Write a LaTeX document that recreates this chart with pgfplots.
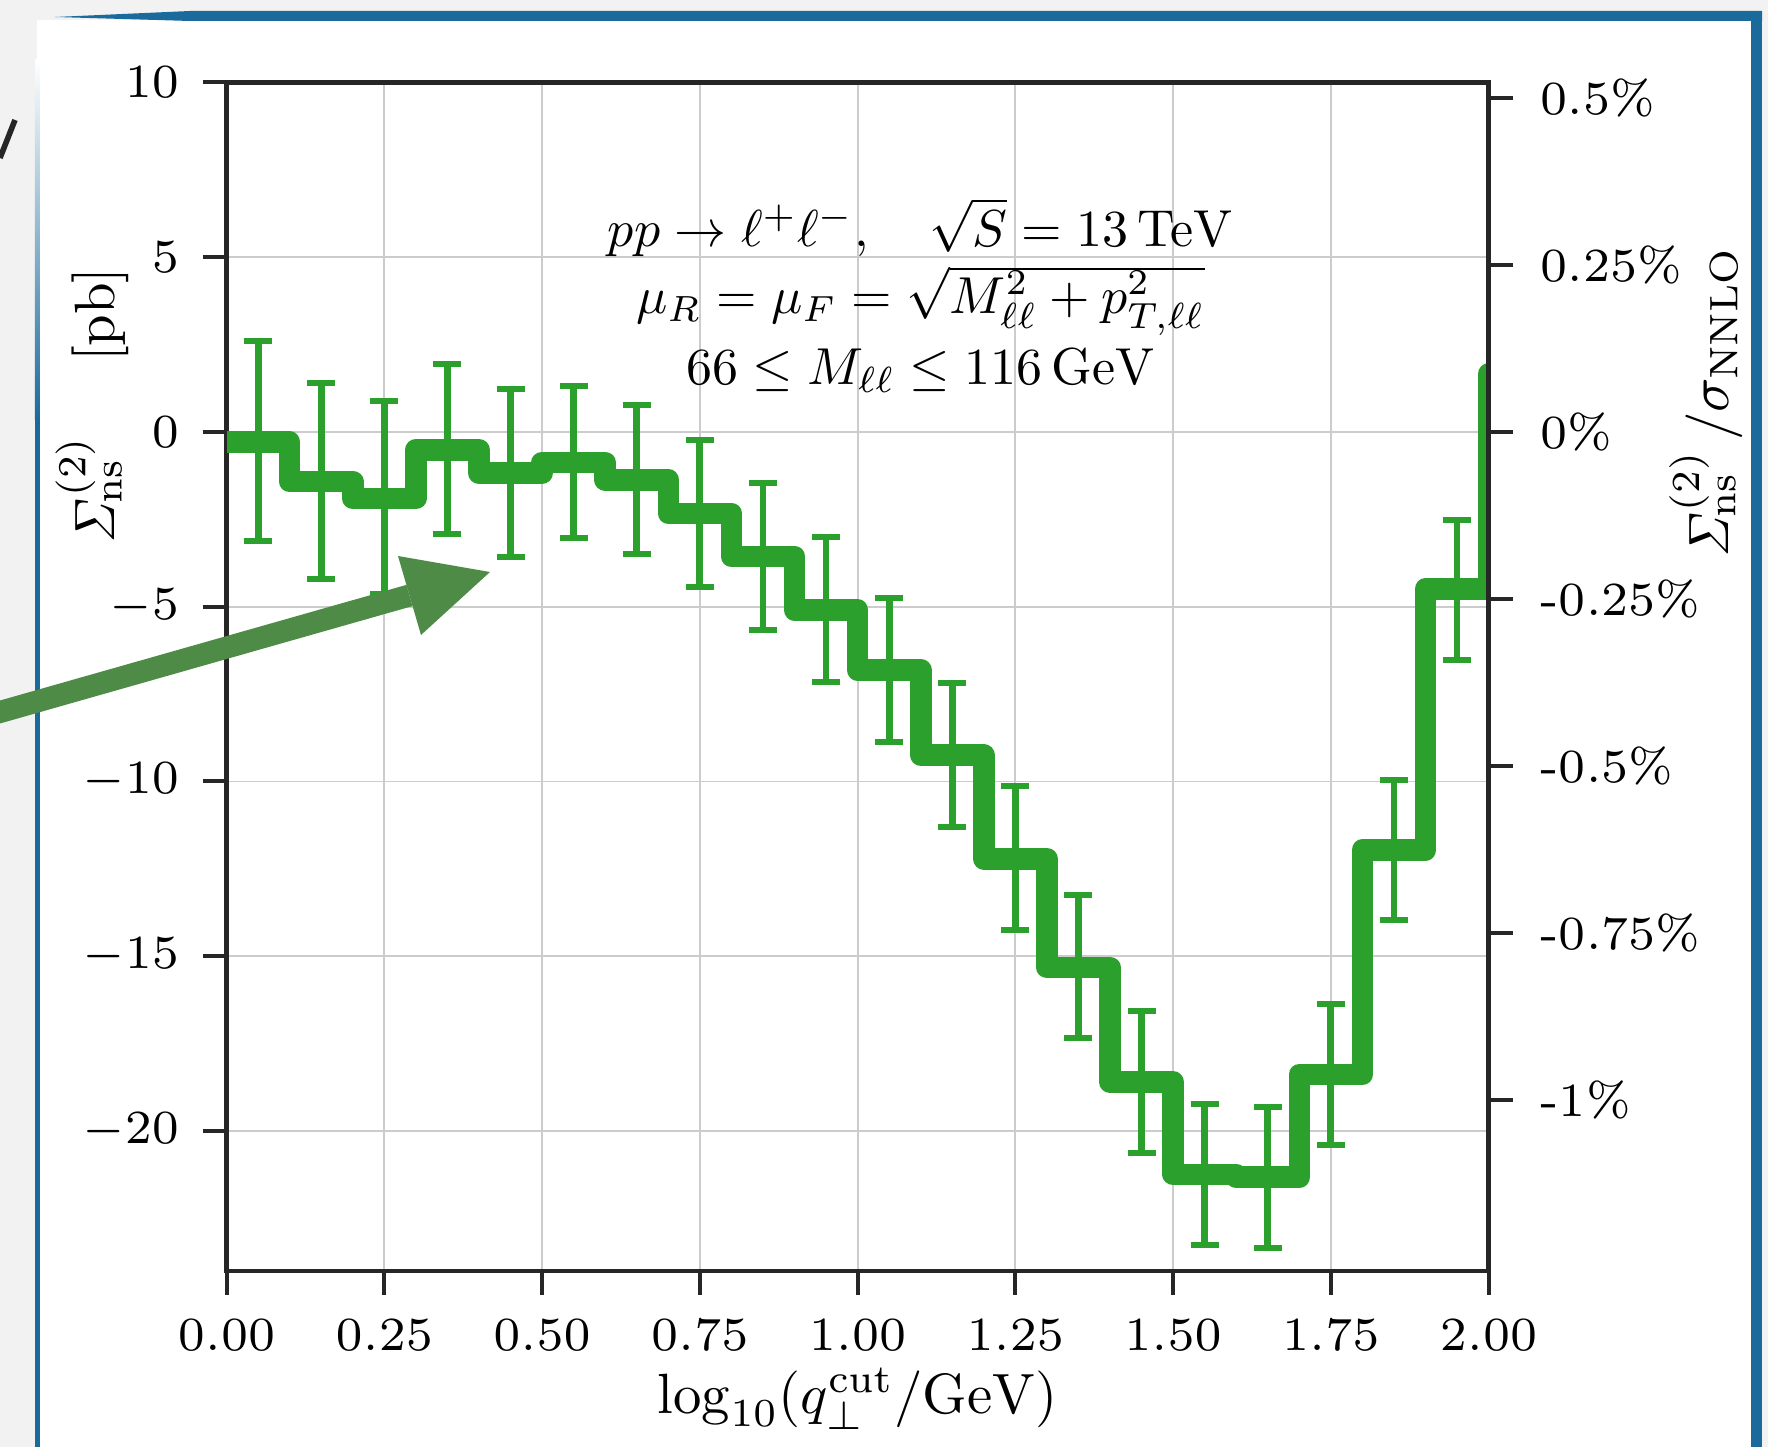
\documentclass[border=0pt]{standalone}
\usepackage{pgfplots}
\pgfplotsset{compat=1.18}
\usepackage{graphicx}
\definecolor{tabgreen}{HTML}{2CA02C}
\definecolor{arrowgreen}{HTML}{4E8B46}
\definecolor{slideblue}{HTML}{1B6A9C}
\definecolor{bggray}{HTML}{F2F2F2}
\definecolor{spine}{HTML}{262626}
\definecolor{gridc}{HTML}{CCCCCC}
\newcommand{\tl}[1]{\scalebox{1.7}{\fontsize{7}{8}\selectfont #1}}
\newcommand{\lb}[1]{\scalebox{1.42}{\fontsize{10}{12}\selectfont #1}}
\newcommand{\an}[1]{\scalebox{1.3}{\fontsize{10}{12}\selectfont #1}}

\pgfplotstableread{
x y e
0.05 -0.27 2.86
0.15 -1.41 2.81
0.25 -1.87 2.76
0.35 -0.50 2.43
0.45 -1.18 2.40
0.55 -0.86 2.17
0.65 -1.37 2.13
0.75 -2.33 2.11
0.85 -3.56 2.10
0.95 -5.08 2.08
1.05 -6.81 2.07
1.15 -9.25 2.06
1.25 -12.20 2.06
1.35 -15.30 2.05
1.45 -18.60 2.04
1.55 -21.25 2.02
1.65 -21.33 2.02
1.75 -18.39 2.01
1.85 -11.97 2.00
1.95 -4.52 2.00
}\errtable

\begin{document}
\begin{tikzpicture}
\begin{scope}[x=0.25pt,y=-0.25pt,shift={(-56.65pt,317.7pt)}]
  \useasboundingbox (0,0) rectangle (1768,1447);
  \fill[bggray] (0,0) rectangle (1768,1447);
  \fill[white] (37,20) rectangle (1752,1447);
  \fill[slideblue] (55,17) -- (190,11) -- (1762,11) -- (1762,21) -- (190,21) -- cycle;
  \fill[slideblue] (1751,11) rectangle (1762,1447);
  \shade[top color=white, bottom color=slideblue] (35,60) rectangle (40,420);
  \fill[slideblue] (35,419) rectangle (40,1447);
  \draw[line width=1.4pt, black!85] (15,120) -- (0,158);
\end{scope}

\begin{axis}[
  at={(0,0)}, anchor=south west,
  scale only axis, width=315.5pt, height=297.1pt,
  xmin=0, xmax=2, ymin=-24, ymax=10,
  xtick={0,0.25,0.5,0.75,1,1.25,1.5,1.75,2},
  ytick={-20,-15,-10,-5,0,5,10},
  xticklabel={\tl{$\pgfmathprintnumber[fixed,fixed zerofill,precision=2]{\tick}$}},
  yticklabel={\tl{$\pgfmathprintnumber{\tick}$}},
  xticklabel style={inner sep=0pt, yshift=-6.1pt},
  yticklabel style={inner sep=0pt, xshift=-5.7pt},
  tick align=outside, major tick length=6pt,
  xtick pos=left, ytick pos=left,
  tick style={line width=1pt, spine},
  axis line style={line width=1.1pt, spine},
  grid=major, major grid style={line width=0.45pt, gridc},
  xlabel={\lb{$\log_{10}(q_\perp^{\mathrm{cut}}/\mathrm{GeV})$}},
  xlabel style={at={(axis description cs:0.5,-0.1075)}, anchor=center, inner sep=0pt},
  ylabel={\lb{$\mathit{\Sigma}^{(2)}_{\mathrm{ns}}\hspace{1.3em}[\mathrm{pb}]$}},
  ylabel style={at={(axis description cs:-0.1064,0.728)}, anchor=center, inner sep=0pt},
  clip=true,
]
\addplot[const plot, tabgreen, line width=5.4pt, line join=round] coordinates {
(0,-0.29) (0.1,-1.42) (0.2,-1.90) (0.3,-0.51) (0.4,-1.18) (0.5,-0.87)
(0.6,-1.37) (0.7,-2.33) (0.8,-3.56) (0.9,-5.09) (1.0,-6.81) (1.1,-9.25)
(1.2,-12.21) (1.3,-15.32) (1.4,-18.60) (1.5,-21.24) (1.6,-21.32) (1.7,-18.38)
(1.8,-11.96) (1.9,-4.49) (2.0,1.65) (2.1,1.65)};
\addplot[only marks, mark=none, tabgreen,
  error bars/.cd, y dir=both, y explicit,
  error bar style={line width=1.7pt, draw=tabgreen},
  error mark options={draw=tabgreen, line width=1.5pt, mark size=3.5pt, rotate=90}]
  table[x=x, y=y, y error=e] {\errtable};
\node[anchor=base, inner sep=0pt] at (axis cs:1.1,5.31) {\an{$pp\to\ell^+\ell^-,\quad\sqrt{S}=13\,\mathrm{TeV}$}};
\node[anchor=base, inner sep=0pt] at (axis cs:1.1,3.38) {\an{$\mu_R=\mu_F=\sqrt{\vphantom{M}\smash{M_{\ell\ell}^2+p_{T,\ell\ell}^2}}$}};
\node[anchor=base, inner sep=0pt] at (axis cs:1.1,1.36) {\an{$66\le M_{\ell\ell}\le 116\,\mathrm{GeV}$}};
\end{axis}

\begin{axis}[
  at={(0,0)}, anchor=south west,
  scale only axis, width=315.5pt, height=297.1pt,
  xmin=0, xmax=2, ymin=-1.2552, ymax=0.5230,
  axis x line=none, axis y line*=right,
  ytick={-1,-0.75,-0.5,-0.25,0,0.25,0.5},
  yticklabels={\tl{-1\%},\tl{-0.75\%},\tl{-0.5\%},\tl{-0.25\%},\tl{0\%},\tl{0.25\%},\tl{0.5\%}},
  yticklabel style={inner sep=0pt, xshift=6.8pt},
  tick align=outside, major tick length=6pt,
  tick style={line width=1pt, spine},
  axis line style={line width=1.1pt, spine},
  ylabel={\lb{$\mathit{\Sigma}^{(2)}_{\mathrm{ns}}\,/\sigma_{\mathrm{NNLO}}$}},
  ylabel style={at={(axis description cs:1.1724,0.7305)}, anchor=center, inner sep=0pt},
]
\addplot[draw=none] coordinates {(0,0)};
\end{axis}

\begin{scope}[x=0.25pt,y=-0.25pt,shift={(-56.65pt,317.7pt)}]
  \fill[arrowgreen] (0,700.5) -- (0,723.5) -- (412.5,606.1) -- (406.5,584.9) -- cycle;
  \fill[arrowgreen] (398,556) -- (490,572) -- (421,635) -- cycle;
\end{scope}
\end{tikzpicture}
\end{document}
